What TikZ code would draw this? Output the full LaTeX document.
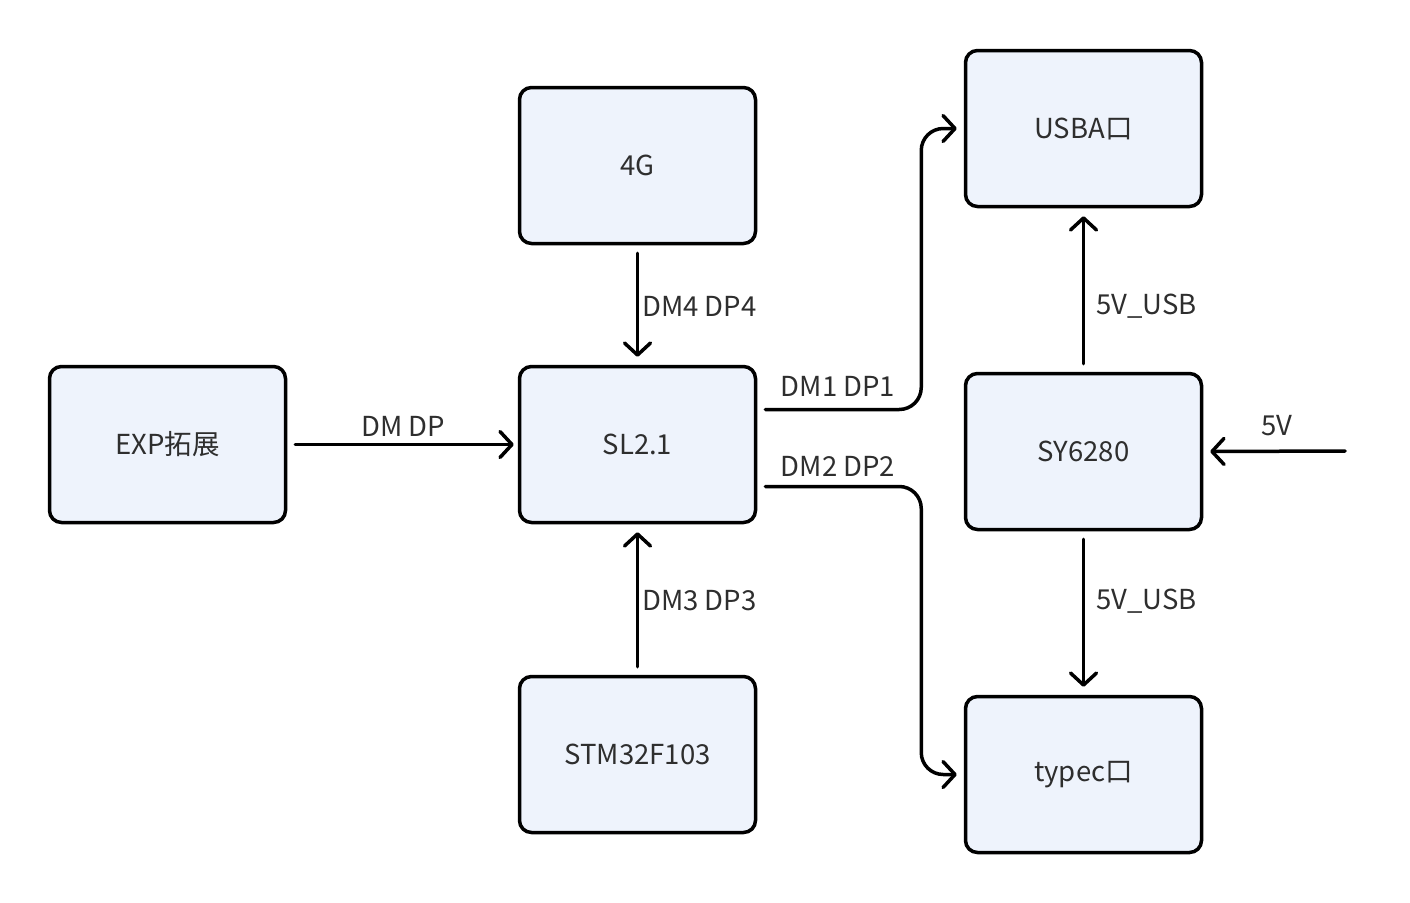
\documentclass[tikz,border=0pt]{standalone}
\usepackage{fontspec}
\setmainfont{Noto Sans CJK SC}
\usetikzlibrary{arrows.meta,calc}
\definecolor{boxfill}{HTML}{EEF3FC}
\definecolor{txt}{HTML}{2E2E2E}
\tikzset{
  blk/.style={draw=black, line width=3.5pt, fill=boxfill, rounded corners=12pt,
    minimum width=236pt, minimum height=156pt, inner sep=0pt, text=txt,
    font=\fontsize{27.5}{31}\selectfont},
  conn/.style={draw=black, line width=3.5pt, line cap=round, line join=round,
    -{Straight Barb[length=12pt,width=26pt,line cap=round,line join=round]}},
  lbl/.style={text=txt, font=\fontsize{27.5}{31}\selectfont, inner sep=0pt}
}
\begin{document}
\begin{tikzpicture}[x=1pt,y=-1pt]
\useasboundingbox (0,0) rectangle (1410,902);
\node[blk] (g4) at (637.5,165.5) {4G};
\node[blk] (sl) at (637.5,444.5) {SL2.1};
\node[blk] (stm) at (637.5,754.5) {STM32F103};
\node[blk] (exp) at (167.5,444.5) {EXP拓展};
\node[blk] (usba) at (1083.5,128.5) {USBA口};
\node[blk] (sy) at (1083.5,451.5) {SY6280};
\node[blk] (tc) at (1083.5,774.5) {typec口};
\coordinate (vin) at (1345,451);

\draw[conn] ([yshift=-8pt]g4.south) -- ([yshift=8pt]sl.north);
\draw[conn] ([yshift=8pt]stm.north) -- ([yshift=-8pt]sl.south);
\draw[conn] ([xshift=8pt]exp.east) -- ([xshift=-4pt]sl.west);
\draw[conn, rounded corners=22pt] ([xshift=8pt,yshift=35pt]sl.east) -- ++(156pt,0pt) |- ([xshift=-7pt]usba.west);
\draw[conn, rounded corners=22pt] ([xshift=8pt,yshift=-42pt]sl.east) -- ++(156pt,0pt) |- ([xshift=-7pt]tc.west);
\draw[conn] ([yshift=8pt]sy.north) -- ([yshift=-8pt]usba.south);
\draw[conn] ([yshift=-8pt]sy.south) -- ([yshift=8pt]tc.north);
\draw[conn] (vin) -- ([xshift=7pt]sy.east);

\node[lbl, anchor=west] at (642,306) {DM4 DP4};
\node[lbl, anchor=west] at (642,601) {DM3 DP3};
\node[lbl] at (403,426) {DM DP};
\node[lbl] at (838,386) {DM1 DP1};
\node[lbl] at (838,466) {DM2 DP2};
\node[lbl, anchor=west] at (1096,306) {5V\_USB};
\node[lbl, anchor=west] at (1096,601) {5V\_USB};
\node[lbl] at (1277,426) {5V};
\end{tikzpicture}
\end{document}
